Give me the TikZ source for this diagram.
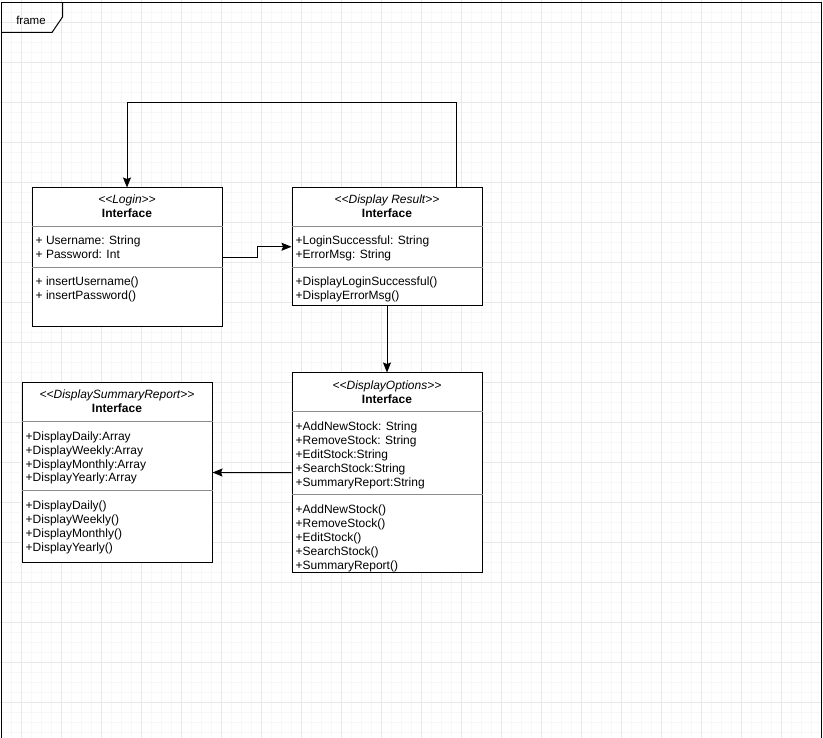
\documentclass[tikz,border=0pt]{standalone}
\usepackage{fontspec}
\setmainfont{Liberation Sans}
\usetikzlibrary{arrows.meta,calc}

\tikzset{
  gridminor/.style={draw=black!3, line width=1pt},
  gridmajor/.style={draw=black!9, line width=1pt},
  framebox/.style={draw=black, line width=1pt},
  classbox/.style={draw=black, line width=1pt, fill=white, rectangle, inner sep=0pt,
    anchor=north west, minimum width=190pt},
  compsep/.style={draw=black!45, line width=1pt},
  member/.style={anchor=base west, inner sep=0pt, font=\fontsize{12}{14}\selectfont},
  stereo/.style={anchor=base, inner sep=0pt, font=\fontsize{12}{14}\selectfont\itshape},
  cname/.style={anchor=base, inner sep=0pt, font=\fontsize{12}{14}\selectfont\bfseries},
  framelabel/.style={inner sep=0pt, font=\fontsize{11.5}{13}\selectfont},
  link/.style={draw=black, line width=1pt, -{Stealth[length=10pt,width=8pt,inset=1.5pt]}},
}

% A UML class box: name, x, y (top), height, stereotype, attributes, operations
\newcommand{\umlclass}[7]{%
  \node[classbox, minimum height=#4pt] (#1) at (#2,#3) {};
  \node[stereo] (#1-st) at ($(#1.north)+(0,16.5)$) {<{}<#5>{}>};
  \node[cname] (#1-nm) at ($(#1.north)+(0,30.5)$) {Interface};
  \draw[compsep] ($(#1.north west)+(0,39)$) -- ($(#1.north east)+(0,39)$);
  \foreach \memb [count=\i] in {#6} {
    \node[member] (#1-a\i) at ($(#1.north west)+(4,{39+4.5+14*\i})$) {\memb};
    \xdef\nattr{\i}
  }
  \pgfmathsetmacro\sepy{39+14*\nattr+13}
  \draw[compsep] ($(#1.north west)+(0,\sepy)$) -- ($(#1.north east)+(0,\sepy)$);
  \foreach \memb [count=\i] in {#7} {
    \node[member] (#1-m\i) at ($(#1.north west)+(4,{\sepy+4.5+14*\i})$) {\memb};
  }
}

\begin{document}
\begin{tikzpicture}[x=1pt,y=-1pt]
  \useasboundingbox (0,0) rectangle (823,738);
  \clip (0,0) rectangle (823,738);

  % background grid
  \foreach \gx in {1.5,11.5,...,821.5} \draw[gridminor] (\gx,0) -- (\gx,738);
  \foreach \gy in {2.5,12.5,...,738} \draw[gridminor] (0,\gy) -- (823,\gy);
  \foreach \gx in {21.5,61.5,...,821.5} \draw[gridmajor] (\gx,0) -- (\gx,738);
  \foreach \gy in {22.5,62.5,...,738} \draw[gridmajor] (0,\gy) -- (823,\gy);

  % frame with its name tab
  \draw[framebox] (1.5,745) -- (1.5,2.5) -- (821.5,2.5) -- (821.5,745);
  \draw[framebox] (1.5,32.5) -- (52,32.5) -- (62.5,17) -- (62.5,2.5);
  \node[framelabel] (framename) at (31,20) {frame};

  % classes
  \umlclass{login}{31.5}{187.5}{139}{Login}
    {+ Username: String, + Password: Int}
    {+ insertUsername(), + insertPassword()}
  \umlclass{result}{291.5}{187.5}{117.5}{Display Result}
    {+LoginSuccessful: String, +ErrorMsg: String}
    {+DisplayLoginSuccessful(), +DisplayErrorMsg()}
  \umlclass{options}{291.5}{372.5}{199.5}{DisplayOptions}
    {+AddNewStock: String, +RemoveStock: String, +EditStock:String,
     +SearchStock:String, +SummaryReport:String}
    {+AddNewStock(), +RemoveStock(), +EditStock(), +SearchStock(), +SummaryReport()}
  \umlclass{summary}{21.5}{382.5}{179}{DisplaySummaryReport}
    {+DisplayDaily:Array, +DisplayWeekly:Array, +DisplayMonthly:Array, +DisplayYearly:Array}
    {+DisplayDaily(), +DisplayWeekly(), +DisplayMonthly(), +DisplayYearly()}

  % connectors
  \draw[link] (login.east) -- ++(35,0) |- (result.west);
  \draw[link] ($(result.north west)+(165,0)$) -- ++(0,-85) -| (login.north);
  \draw[link] (result.south) -- (options.north);
  \draw[link] (options.west) -- (summary.east);
\end{tikzpicture}
\end{document}
